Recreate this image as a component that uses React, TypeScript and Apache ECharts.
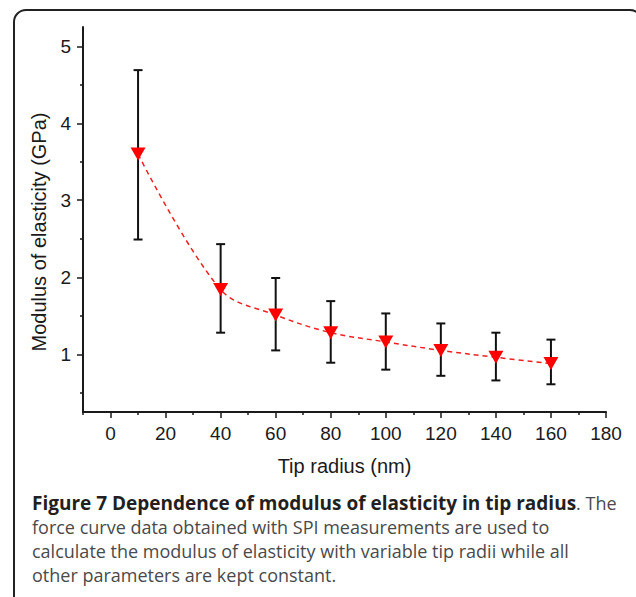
import React, { useEffect, useRef } from "react";
import * as echarts from "echarts";

const tipRadius = [10, 40, 60, 80, 100, 120, 140, 160];
const modulus = [3.6, 1.84, 1.51, 1.28, 1.16, 1.05, 0.96, 0.88];
const errUpper = [4.69, 2.43, 1.99, 1.69, 1.53, 1.4, 1.28, 1.19];
const errLower = [2.49, 1.28, 1.05, 0.89, 0.8, 0.72, 0.66, 0.61];

const xMajorTicks = [0, 20, 40, 60, 80, 100, 120, 140, 160, 180];
const xMinorTicks = [-10, 10, 30, 50, 70, 90, 110, 130, 150, 170];
const yMajorTicks = [1, 2, 3, 4, 5];
const yMinorTicks = [0.5, 1.5, 2.5, 3.5, 4.5];

const xTitle = "Tip radius (nm)";
const yTitle = "Modulus of elasticity (GPa)";
const captionBold = "Figure 7 Dependence of modulus of elasticity in tip radius";
const captionLines = [
  ". The",
  "force curve data obtained with SPI measurements are used to",
  "calculate the modulus of elasticity with variable tip radii while all",
  "other parameters are kept constant.",
];

export default function App() {
  const ref = useRef<HTMLDivElement>(null);
  useEffect(() => {
    const chart = echarts.init(ref.current!, null, { renderer: "svg" });
    const axisFont = "Liberation Sans";
    const capFont = "Open Sans";
    const capSize = 18;
    const grid = { left: 83, top: 27, right: 30, bottom: 185, containLabel: false, outerBoundsMode: "none" };
    const xCommon = {
      type: "value",
      min: -10,
      max: 180,
      position: "bottom",
      splitLine: { show: false },
    };
    const yCommon = {
      type: "value",
      min: 0.25,
      max: 5.25,
      position: "left",
      splitLine: { show: false },
    };
    chart.setOption({
      animation: false,
      backgroundColor: "#ffffff",
      grid,
      xAxis: [
        {
          ...xCommon,
          name: xTitle,
          nameLocation: "middle",
          nameGap: 44,
          nameTextStyle: { fontFamily: axisFont, fontSize: 20, color: "#1a1a1a" },
          axisLine: { show: true, onZero: false, lineStyle: { color: "#1a1a1a", width: 2 } },
          axisTick: { show: true, customValues: xMajorTicks, length: 6, lineStyle: { color: "#1a1a1a", width: 1.5 } },
          axisLabel: { show: true, customValues: xMajorTicks, margin: 12, fontFamily: axisFont, fontSize: 19, color: "#1a1a1a" },
        },
        {
          ...xCommon,
          axisLine: { show: false, onZero: false },
          axisTick: { show: true, customValues: xMinorTicks, length: 3, lineStyle: { color: "#1a1a1a", width: 1.5 } },
          axisLabel: { show: false },
        },
      ],
      yAxis: [
        {
          ...yCommon,
          axisLine: { show: true, onZero: false, lineStyle: { color: "#1a1a1a", width: 2 } },
          axisTick: { show: true, customValues: yMajorTicks, length: 6, lineStyle: { color: "#1a1a1a", width: 1.5 } },
          axisLabel: { show: true, customValues: yMajorTicks, margin: 12, fontFamily: axisFont, fontSize: 19, color: "#1a1a1a" },
        },
        {
          ...yCommon,
          axisLine: { show: false, onZero: false },
          axisTick: { show: true, customValues: yMinorTicks, length: 3, lineStyle: { color: "#1a1a1a", width: 1.5 } },
          axisLabel: { show: false },
        },
      ],
      series: [
        {
          type: "custom",
          z: 1,
          xAxisIndex: 0,
          yAxisIndex: 0,
          data: tipRadius.map((x, i) => [x, errLower[i], errUpper[i]]),
          encode: { x: 0, y: [1, 2] },
          renderItem: (params: any, api: any) => {
            const x = api.value(0);
            const lo = api.coord([x, api.value(1)]);
            const hi = api.coord([x, api.value(2)]);
            const cap = 4.5;
            const st = { stroke: "#111111", lineWidth: 2 };
            return {
              type: "group",
              children: [
                { type: "line", shape: { x1: lo[0], y1: lo[1], x2: hi[0], y2: hi[1] }, style: st },
                { type: "line", shape: { x1: hi[0] - cap, y1: hi[1], x2: hi[0] + cap, y2: hi[1] }, style: st },
                { type: "line", shape: { x1: lo[0] - cap, y1: lo[1], x2: lo[0] + cap, y2: lo[1] }, style: st },
              ],
            };
          },
        },
        {
          type: "line",
          z: 3,
          xAxisIndex: 0,
          yAxisIndex: 0,
          data: tipRadius.map((x, i) => [x, modulus[i]]),
          smooth: 0.35,
          symbol: "triangle",
          symbolRotate: 180,
          symbolSize: [15, 13],
          itemStyle: { color: "#ff0000" },
          lineStyle: { color: "#ee2020", width: 1.5, type: [5, 4] },
        },
      ],
      graphic: [
        {
          type: "rect",
          shape: { x: 14, y: 10, width: 628, height: 700, r: 12 },
          style: { fill: "none", stroke: "#222222", lineWidth: 2 },
          silent: true,
        },
        {
          type: "text",
          x: 39,
          y: 232,
          rotation: Math.PI / 2,
          style: {
            text: yTitle,
            fontFamily: axisFont,
            fontSize: 20,
            fill: "#1a1a1a",
            align: "center",
            verticalAlign: "middle",
          },
        },
        {
          type: "text",
          x: 32,
          y: 503,
          style: {
            text: "{b|" + captionBold + "}{n|" + captionLines[0] + "}",
            verticalAlign: "middle",
            rich: {
              b: { fontFamily: capFont, fontWeight: "bold", fontSize: 19, fill: "#231f20" },
              n: { fontFamily: capFont, fontSize: capSize, fill: "#4a4a4a" },
            },
          },
        },
        ...captionLines.slice(1).map((t, i) => ({
          type: "text",
          x: 32,
          y: 527 + i * 24,
          style: { text: t, fontFamily: capFont, fontSize: capSize, fill: "#4a4a4a", verticalAlign: "middle" },
        })),
      ],
    });
    return () => chart.dispose();
  }, []);
  return (
    <div
      ref={ref}
      style={{ position: "fixed", left: 0, top: 0, width: 636, height: 597 }}
    />
  );
}
